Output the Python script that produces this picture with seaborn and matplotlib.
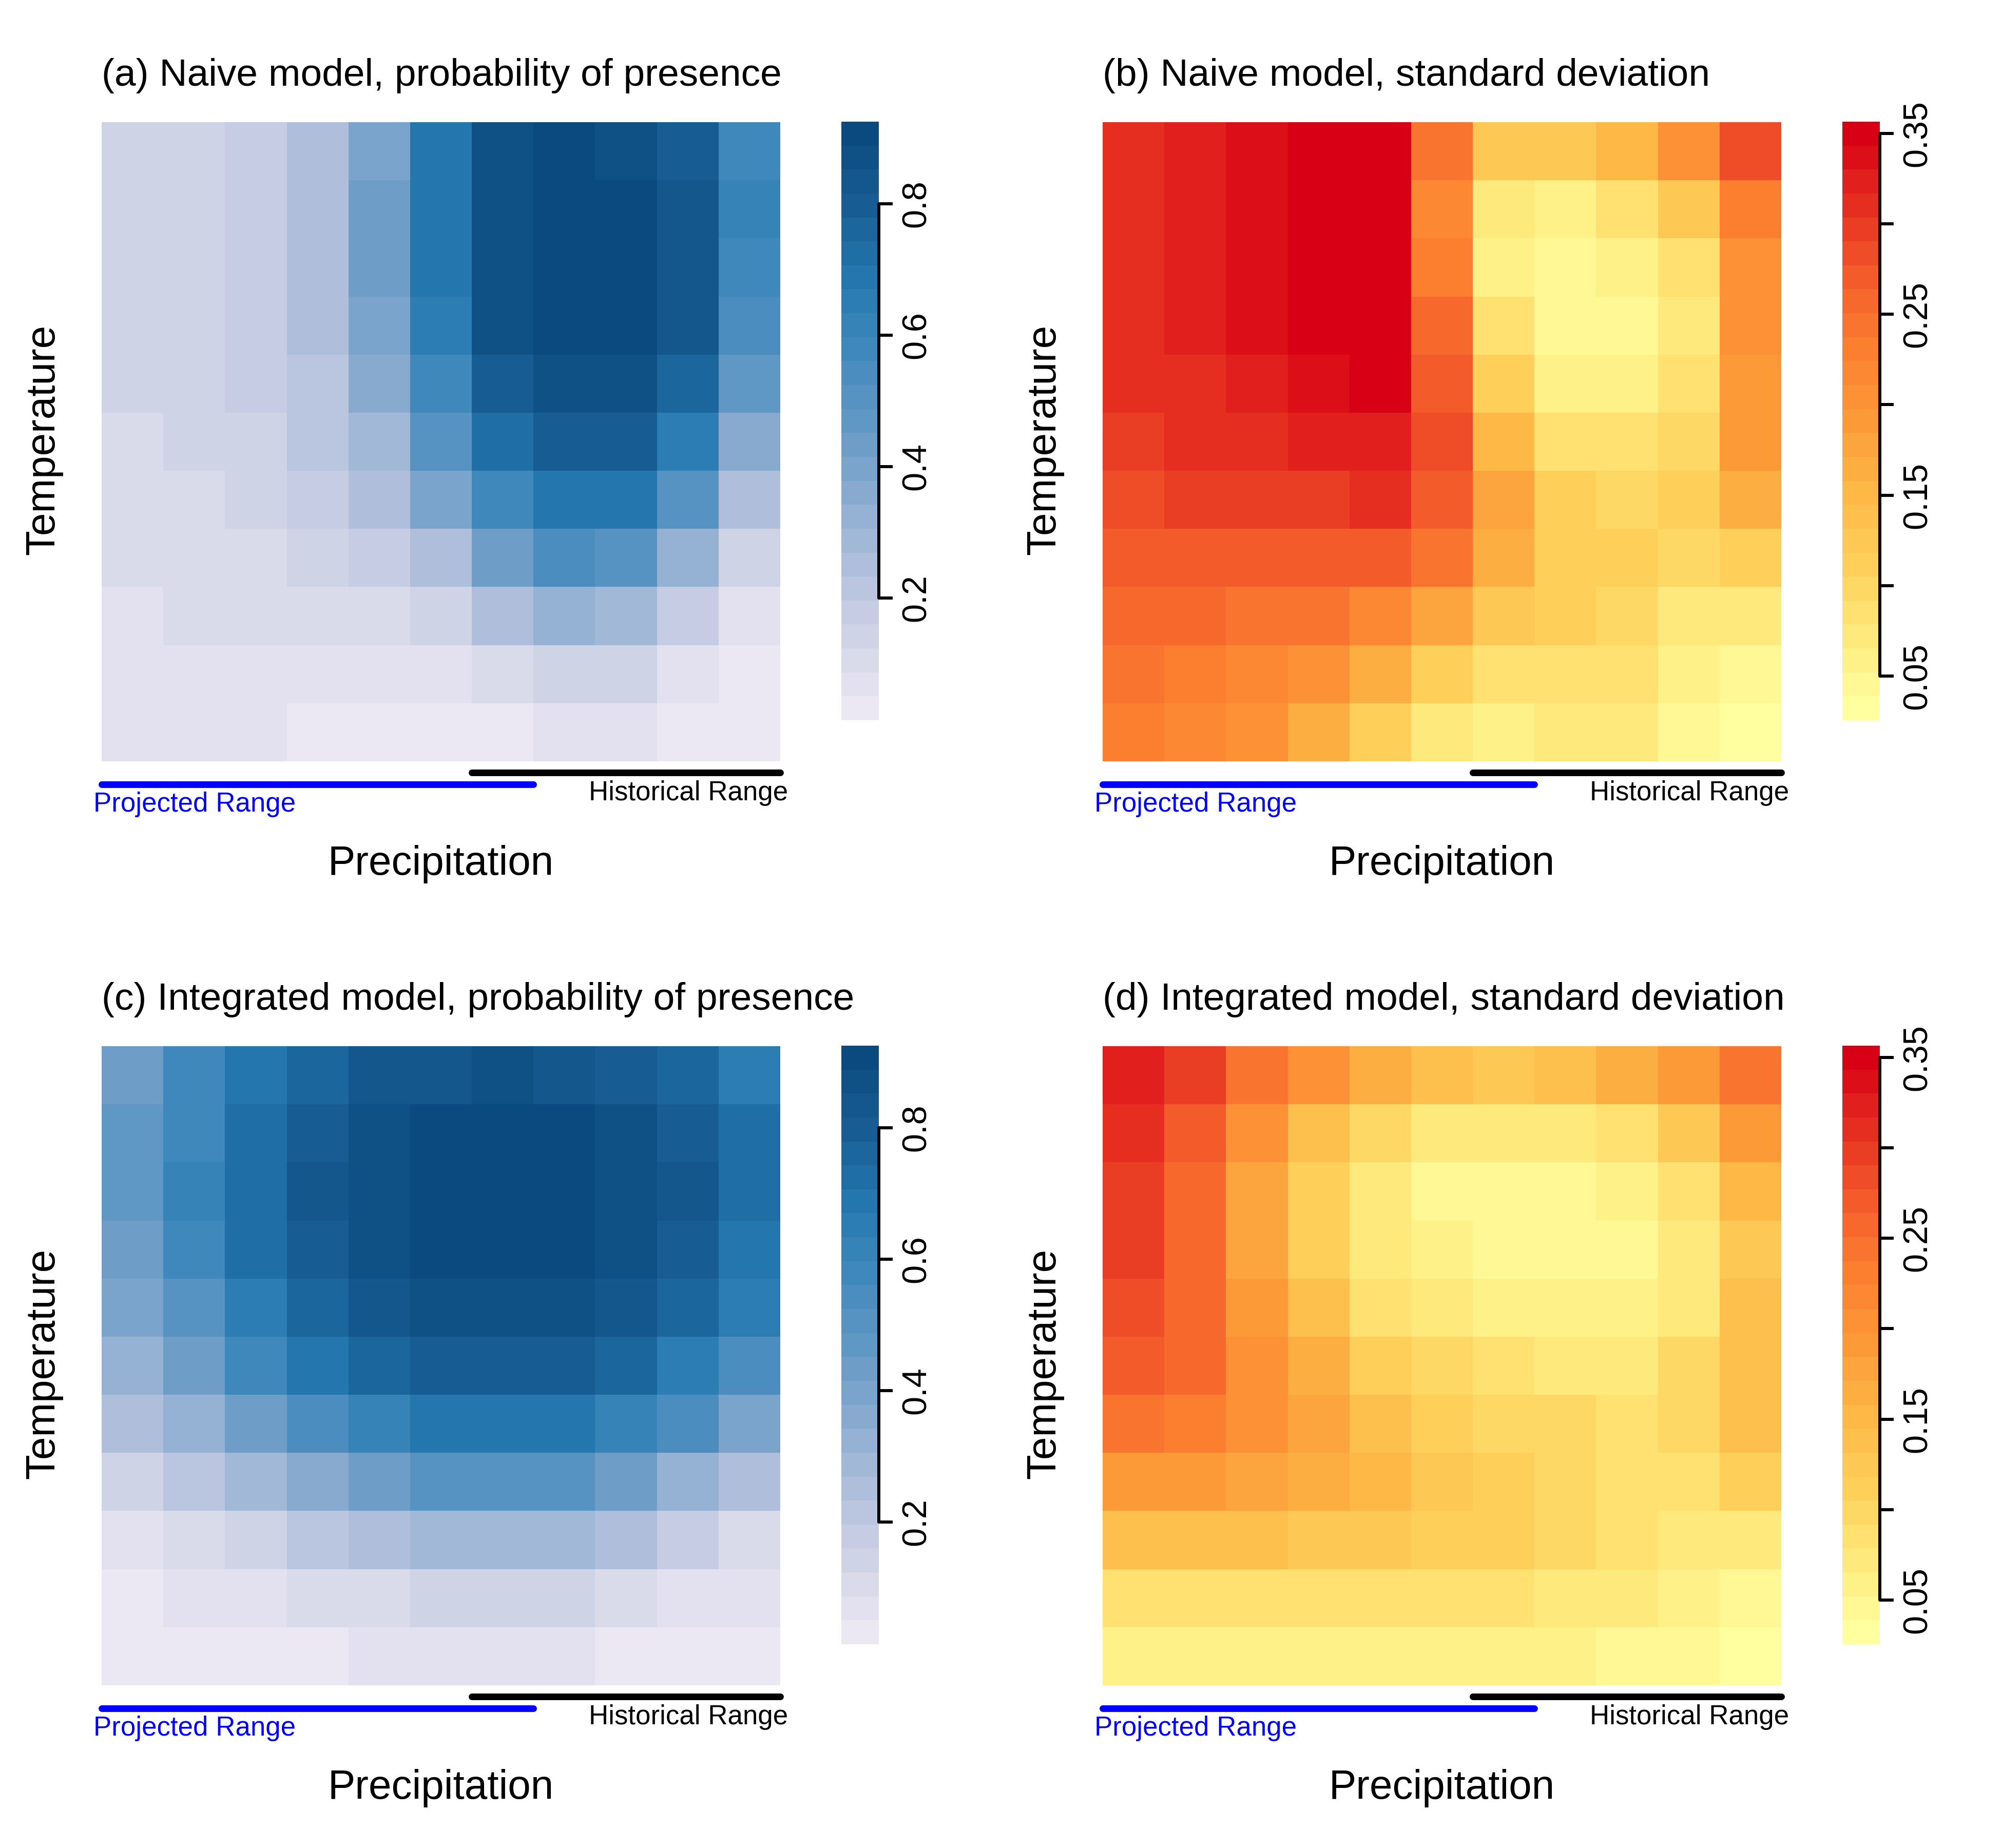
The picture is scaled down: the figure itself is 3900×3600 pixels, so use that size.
import numpy as np
import seaborn as sns
import matplotlib.pyplot as plt
from matplotlib.colors import ListedColormap
from matplotlib.transforms import blended_transform_factory

# values, rows run top to bottom
naive_prob = [
    [.141, .141, .178, .250, .396, .688, .870, .906, .870, .797, .578],
    [.141, .141, .178, .250, .433, .688, .870, .906, .906, .833, .615],
    [.141, .141, .178, .250, .433, .688, .870, .906, .906, .833, .578],
    [.141, .141, .178, .250, .396, .651, .870, .906, .906, .833, .542],
    [.141, .141, .178, .214, .360, .578, .797, .870, .870, .760, .469],
    [.105, .141, .141, .214, .287, .505, .724, .797, .797, .651, .360],
    [.105, .105, .141, .178, .250, .396, .578, .688, .688, .505, .250],
    [.105, .105, .105, .141, .178, .250, .433, .542, .505, .323, .141],
    [.068, .105, .105, .105, .105, .141, .250, .323, .287, .178, .068],
    [.068, .068, .068, .068, .068, .068, .105, .141, .141, .068, .032],
    [.068, .068, .068, .032, .032, .032, .032, .068, .068, .032, .032],
]
naive_sd = [
    [.310, .323, .336, .350, .350, .244, .125, .125, .151, .204, .284],
    [.310, .323, .336, .350, .350, .217, .072, .059, .085, .125, .231],
    [.310, .323, .336, .350, .350, .231, .059, .046, .059, .085, .204],
    [.310, .323, .336, .350, .350, .257, .085, .046, .046, .072, .204],
    [.310, .310, .323, .336, .350, .270, .112, .059, .059, .085, .191],
    [.297, .310, .310, .323, .323, .284, .151, .085, .085, .099, .191],
    [.284, .297, .297, .297, .310, .270, .178, .112, .099, .112, .165],
    [.270, .270, .270, .270, .270, .244, .165, .112, .112, .099, .112],
    [.257, .257, .244, .244, .217, .178, .125, .112, .099, .072, .072],
    [.244, .231, .217, .204, .165, .112, .085, .085, .085, .059, .046],
    [.231, .217, .204, .165, .112, .072, .059, .072, .072, .046, .032],
]
integrated_prob = [
    [.433, .578, .688, .760, .833, .833, .870, .833, .797, .760, .651],
    [.469, .578, .724, .797, .870, .906, .906, .906, .870, .797, .724],
    [.469, .615, .724, .833, .870, .906, .906, .906, .870, .833, .724],
    [.433, .578, .724, .797, .870, .906, .906, .906, .870, .797, .688],
    [.396, .505, .651, .760, .833, .870, .870, .870, .833, .760, .651],
    [.323, .433, .578, .688, .760, .797, .797, .797, .760, .651, .542],
    [.250, .323, .433, .542, .615, .688, .688, .688, .615, .542, .396],
    [.141, .214, .287, .360, .433, .505, .505, .505, .433, .323, .250],
    [.068, .105, .141, .214, .250, .287, .287, .287, .250, .178, .105],
    [.032, .068, .068, .105, .105, .141, .141, .141, .105, .068, .068],
    [.032, .032, .032, .032, .068, .068, .068, .068, .032, .032, .032],
]
integrated_sd = [
    [.323, .297, .244, .204, .165, .138, .125, .138, .165, .191, .244],
    [.310, .270, .204, .138, .099, .072, .072, .072, .085, .125, .191],
    [.297, .257, .178, .112, .072, .046, .046, .046, .059, .085, .151],
    [.297, .257, .178, .112, .072, .059, .046, .046, .046, .072, .125],
    [.284, .257, .191, .138, .085, .072, .059, .059, .059, .072, .138],
    [.270, .257, .204, .165, .112, .099, .085, .072, .072, .099, .138],
    [.244, .231, .204, .178, .138, .112, .099, .099, .085, .099, .138],
    [.191, .191, .178, .165, .151, .125, .112, .099, .085, .085, .112],
    [.138, .138, .138, .125, .125, .112, .112, .099, .085, .072, .072],
    [.085, .085, .085, .085, .085, .085, .085, .072, .072, .059, .046],
    [.059, .059, .059, .059, .059, .059, .059, .059, .046, .046, .032],
]
titles = ['(a) Naive model, probability of presence',
          '(b) Naive model, standard deviation',
          '(c) Integrated model, probability of presence',
          '(d) Integrated model, standard deviation']
historical_range = [6, 11]
projected_range = [0, 7]
prob_ticks = [0.2, 0.4, 0.6, 0.8]
prob_labels = ['0.2', '0.4', '0.6', '0.8']
sd_ticks = [0.05, 0.10, 0.15, 0.20, 0.25, 0.30, 0.35]
sd_labels = ['0.05', '', '0.15', '', '0.25', '', '0.35']

sns.set_style('white')
plt.rcParams['font.family'] = ['Liberation Sans', 'DejaVu Sans']
plt.rcParams['text.color'] = 'black'
plt.rcParams['axes.labelcolor'] = 'black'
plt.rcParams['ytick.labelcolor'] = 'black'

blues = ListedColormap(sns.blend_palette(
    ['#ECE8F3', '#CFD3E6', '#AFBEDB', '#88AACF', '#6198C5',
     '#4088BB', '#2378AF', '#175D94', '#0B4A7E'], 25))
reds = ListedColormap(sns.blend_palette(
    ['#FFFFA0', '#FEE97C', '#FED05A', '#FDB846', '#FC9A38',
     '#FC8030', '#F35D2A', '#E52F20', '#D80014'], 25))

W, H = 3900, 3600


def px_axes(fig, left, top, right, bottom):
    return fig.add_axes([left / W, 1 - bottom / H, (right - left) / W, (bottom - top) / H])


def draw_panel(fig, data, title, cmap, vmin, vmax, ticks, labels, dx, dy):
    ax = px_axes(fig, 198 + dx, 238 + dy, 1520 + dx, 1483 + dy)
    cax = px_axes(fig, 1639 + dx, 237 + dy, 1712 + dx, 1403 + dy)
    sns.heatmap(np.array(data), ax=ax, cbar_ax=cax, cmap=cmap, vmin=vmin, vmax=vmax,
                xticklabels=False, yticklabels=False)

    ax.set_title(title, loc='left', fontsize=18, pad=17, color='black')
    ax.set_xlabel('Precipitation', fontsize=19.2)
    ax.xaxis.set_label_coords(0.5, -0.131)
    ax.set_ylabel('Temperature', fontsize=19.2)
    ax.yaxis.set_label_coords(-0.0575, 0.503)

    # range bars under the x axis, x in data units and y in axes units
    trans = blended_transform_factory(ax.transData, ax.transAxes)
    ax.plot(historical_range, [-0.0177, -0.0177], color='black', lw=3.1,
            solid_capstyle='round', transform=trans, clip_on=False)
    ax.plot(projected_range, [-0.036, -0.036], color='#0000FF', lw=3.1,
            solid_capstyle='round', transform=trans, clip_on=False)
    ax.text(11.13, -0.0495, 'Historical Range', transform=trans, ha='right', va='center',
            fontsize=12.7, color='black')
    ax.text(-0.13, -0.0675, 'Projected Range', transform=trans, ha='left', va='center',
            fontsize=12.7, color='#0000FF')

    # R style axis next to the colorbar
    cax.yaxis.set_ticks_position('right')
    cax.set_yticks(ticks)
    cax.set_yticklabels(labels, rotation=90, va='center', fontsize=16)
    cax.tick_params(axis='y', length=6.4, width=1.44, pad=4, color='black', right=True)
    for line in cax.yaxis.get_ticklines():
        line.set_solid_capstyle('round')
    cax.spines['right'].set_visible(True)
    cax.spines['right'].set_color('black')
    cax.spines['right'].set_linewidth(1.44)
    cax.spines['right'].set_capstyle('round')
    cax.spines['right'].set_bounds(ticks[0], ticks[-1])


fig = plt.figure(figsize=(13, 12), dpi=300)
draw_panel(fig, naive_prob, titles[0], blues, 0.0136, 0.925, prob_ticks, prob_labels, 0, 0)
draw_panel(fig, naive_sd, titles[1], reds, 0.0256, 0.3565, sd_ticks, sd_labels, 1950, 0)
draw_panel(fig, integrated_prob, titles[2], blues, 0.0136, 0.925, prob_ticks, prob_labels, 0, 1800)
draw_panel(fig, integrated_sd, titles[3], reds, 0.0256, 0.3565, sd_ticks, sd_labels, 1950, 1800)

plt.savefig('out.png', dpi=300)
